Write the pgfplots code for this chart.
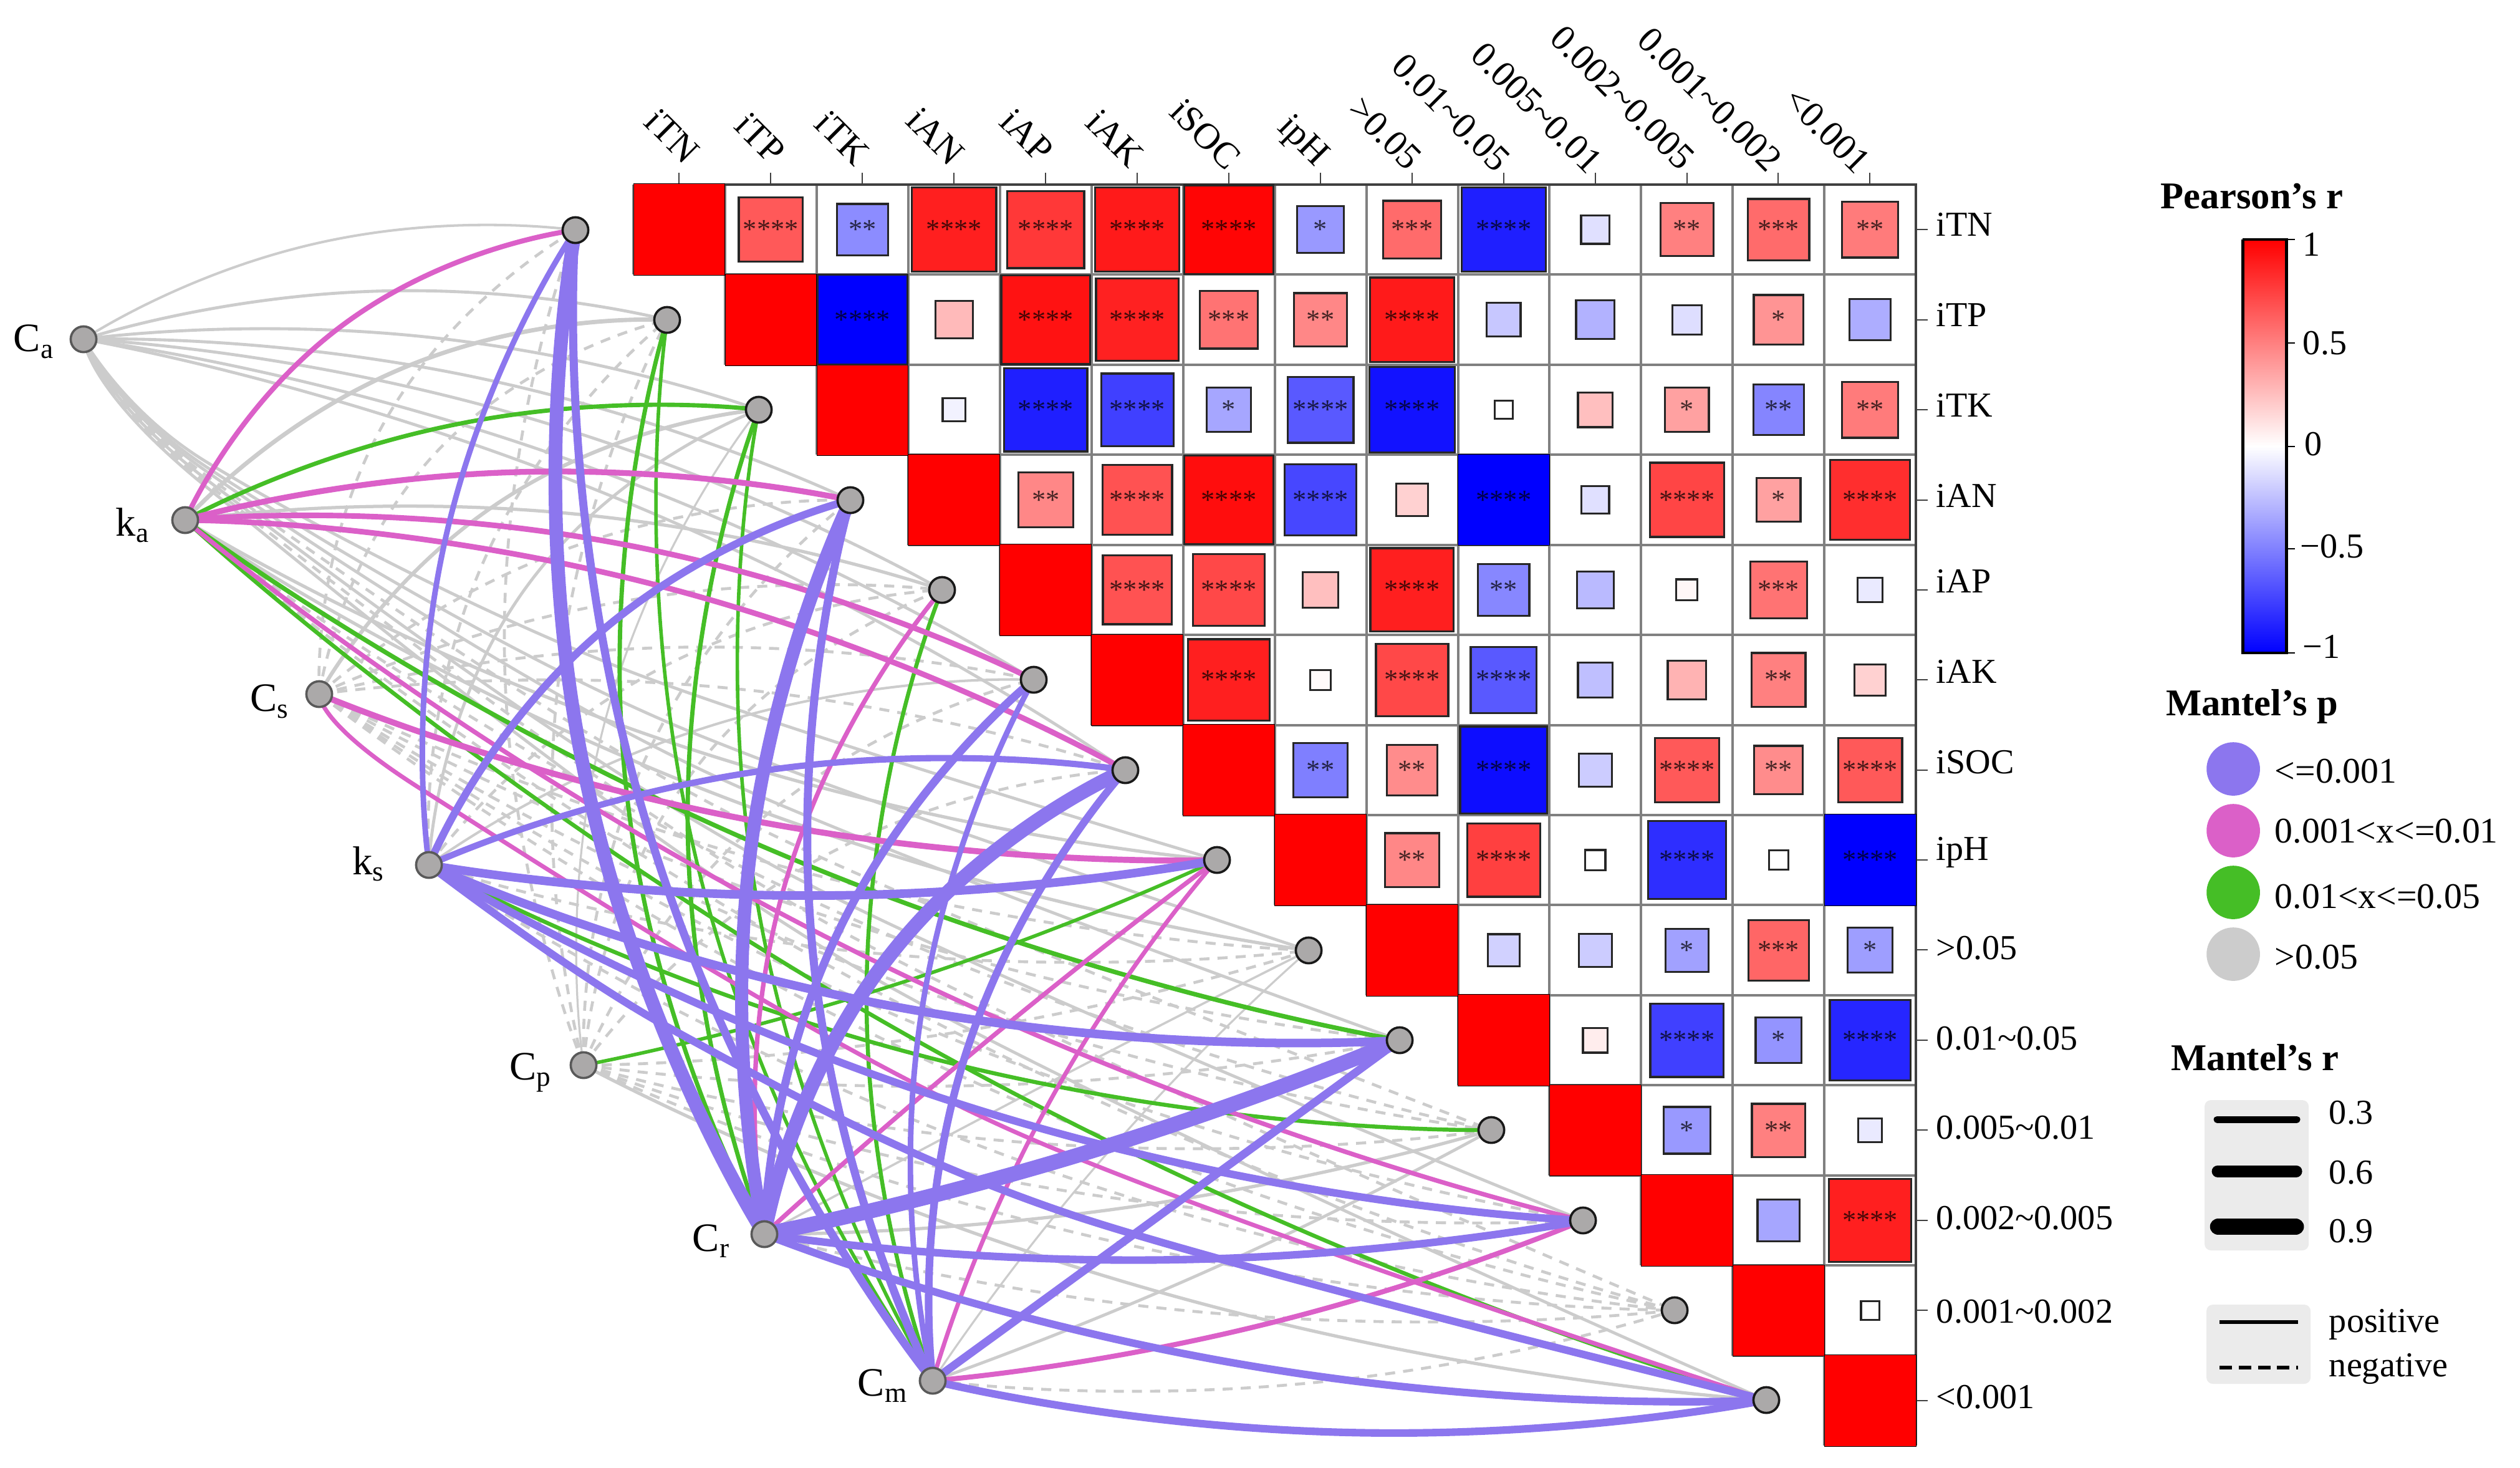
\documentclass[border=0pt]{standalone}
\usepackage{fontspec}
\setmainfont{Liberation Serif}
\usepackage{pgfplots}
\usepackage{pgfplotstable}
\pgfplotsset{compat=1.18}
\definecolor{lg}{HTML}{CCCCCC}
\definecolor{pu}{HTML}{8C76EE}
\definecolor{ma}{HTML}{DB60C8}
\definecolor{gn}{HTML}{45BE26}
\definecolor{ng}{HTML}{ABA9A9}
\definecolor{grid}{HTML}{808080}
\definecolor{axl}{HTML}{404040}
\pgfdeclareplotmark{rsq}{%
  \pgfsetcornersarced{\pgfpoint{1.6pt}{1.6pt}}%
  \pgfpathmoveto{\pgfpoint{0pt}{-\pgfplotmarksize}}%
  \pgfpathlineto{\pgfpoint{\pgfplotmarksize}{-\pgfplotmarksize}}%
  \pgfpathlineto{\pgfpoint{\pgfplotmarksize}{\pgfplotmarksize}}%
  \pgfpathlineto{\pgfpoint{-\pgfplotmarksize}{\pgfplotmarksize}}%
  \pgfpathlineto{\pgfpoint{-\pgfplotmarksize}{-\pgfplotmarksize}}%
  \pgfpathclose
  \pgfusepathqfillstroke}
\tikzset{
  gd/.style={draw=lg,line width=1.15pt,dash pattern=on 4pt off 3.2pt,smooth,tension=1},
  gs/.style={draw=lg,line width=#1,smooth,tension=1},
  pl/.style={draw=pu,line width=#1,smooth,tension=1},
  mg/.style={draw=ma,line width=#1,smooth,tension=1},
  gr/.style={draw=gn,line width=#1,smooth,tension=1},
  soft/.style={tension=0.55},
}
\newcommand{\fs}{\fontsize{13.9}{16}\selectfont}
\newcommand{\ft}{\fontsize{14.6}{17}\selectfont}
\newcommand{\fc}{\fontsize{16}{18}\selectfont}
\newcommand{\fb}{\fontsize{15}{18}\selectfont\bfseries}
\pgfplotstableread{
c r v s st
2 1 0.65 0.70 ****
3 1 -0.45 0.56 **
4 1 0.88 0.92 ****
5 1 0.78 0.84 ****
6 1 0.90 0.92 ****
7 1 0.98 0.97 ****
8 1 -0.40 0.51 *
9 1 0.58 0.63 ***
10 1 -0.88 0.92 ****
11 1 -0.12 0.31 {}
12 1 0.50 0.58 **
13 1 0.58 0.67 ***
14 1 0.52 0.61 **
3 2 -1.00 0.98 ****
4 2 0.27 0.41 {}
5 2 0.93 0.97 ****
6 2 0.87 0.90 ****
7 2 0.55 0.63 ***
8 2 0.47 0.58 **
9 2 0.90 0.92 ****
10 2 -0.22 0.37 {}
11 2 -0.30 0.42 {}
12 2 -0.13 0.32 {}
13 2 0.42 0.54 *
14 2 -0.32 0.45 {}
4 3 -0.05 0.25 {}
5 3 -0.88 0.91 ****
6 3 -0.75 0.79 ****
7 3 -0.35 0.48 *
8 3 -0.65 0.72 ****
9 3 -0.93 0.93 ****
10 3 0.00 0.20 {}
11 3 0.25 0.38 {}
12 3 0.37 0.48 *
13 3 -0.48 0.55 **
14 3 0.52 0.61 **
5 4 0.47 0.60 **
6 4 0.68 0.76 ****
7 4 0.95 0.97 ****
8 4 -0.72 0.78 ****
9 4 0.18 0.35 {}
11 4 -0.12 0.30 {}
12 4 0.73 0.81 ****
13 4 0.37 0.48 *
14 4 0.82 0.87 ****
6 5 0.68 0.75 ****
7 5 0.72 0.78 ****
8 5 0.25 0.39 {}
9 5 0.88 0.91 ****
10 5 -0.47 0.56 **
11 5 -0.27 0.40 {}
12 5 0.03 0.23 {}
13 5 0.55 0.62 ***
14 5 -0.08 0.27 {}
7 6 0.88 0.89 ****
8 6 0.02 0.22 {}
9 6 0.72 0.79 ****
10 6 -0.65 0.72 ****
11 6 -0.25 0.38 {}
12 6 0.30 0.42 {}
13 6 0.50 0.59 **
14 6 0.18 0.34 {}
8 7 -0.50 0.59 **
9 7 0.45 0.55 **
10 7 -0.95 0.95 ****
11 7 -0.20 0.36 {}
12 7 0.65 0.70 ****
13 7 0.45 0.53 **
14 7 0.65 0.70 ****
9 8 0.47 0.59 **
10 8 0.75 0.80 ****
11 8 0.00 0.22 {}
12 8 -0.82 0.85 ****
13 8 0.00 0.21 {}
10 9 -0.18 0.35 {}
11 9 -0.20 0.36 {}
12 9 -0.37 0.47 *
13 9 0.60 0.66 ***
14 9 -0.38 0.49 *
11 10 0.07 0.27 {}
12 10 -0.75 0.80 ****
13 10 -0.42 0.50 *
14 10 -0.85 0.88 ****
12 11 -0.40 0.51 *
13 11 0.50 0.58 **
14 11 -0.08 0.26 {}
13 12 -0.35 0.46 {}
14 12 0.88 0.90 ****
14 13 0.00 0.20 {}
}\cells
\pgfplotstableread{
c r v
1 1 1
2 2 1
3 3 1
4 4 1
5 5 1
6 6 1
7 7 1
8 8 1
9 9 1
10 10 1
11 11 1
12 12 1
13 13 1
14 14 1
10 4 -1
14 8 -1
}\full
\pgfplotstableread{
c r st
10 4 ****
14 8 ****
}\fullstars
\begin{document}
\begin{tikzpicture}[x=1pt,y=1pt]
\useasboundingbox (0,0) rectangle (1000,582.14);
\begin{axis}[at={(0pt,0pt)},anchor=south west,width=1000pt,height=582.14pt,scale only axis,
  xmin=0,xmax=4042,ymin=0,ymax=2353,y dir=reverse,hide axis,clip=false,
  unbounded coords=jump,
  colormap={rw}{rgb255=(0,0,255) rgb255=(255,255,255) rgb255=(255,0,0)},
  point meta min=-1,point meta max=1]

% full cells
\addplot[scatter,only marks,mark=square*,mark size=18.15pt,scatter src=explicit,
  scatter/use mapped color={draw=none,fill=mapped color},mark options={line width=0pt}]
  table[x expr={1016+146.93*(\thisrow{c}-0.5)},y expr={296+144.43*(\thisrow{r}-0.5)},meta=v]{\full};

% grid
\addplot[draw=grid,line width=0.8pt] table{
x y
1016 440
3073 440
nan nan
1163 585
3073 585
nan nan
1310 729
3073 729
nan nan
1457 874
3073 874
nan nan
1604 1018
3073 1018
nan nan
1751 1163
3073 1163
nan nan
1898 1307
3073 1307
nan nan
2045 1451
3073 1451
nan nan
2192 1596
3073 1596
nan nan
2339 1740
3073 1740
nan nan
2485 1885
3073 1885
nan nan
2632 2029
3073 2029
nan nan
2779 2174
3073 2174
nan nan
2926 2318
3073 2318
nan nan
1016 296
1016 440
nan nan
1163 296
1163 585
nan nan
1310 296
1310 729
nan nan
1457 296
1457 874
nan nan
1604 296
1604 1018
nan nan
1751 296
1751 1163
nan nan
1898 296
1898 1307
nan nan
2045 296
2045 1451
nan nan
2192 296
2192 1596
nan nan
2339 296
2339 1740
nan nan
2485 296
2485 1885
nan nan
2632 296
2632 2029
nan nan
2779 296
2779 2174
nan nan
2926 296
2926 2318
};
\addplot[draw=axl,line width=0.9pt] coordinates {(1016,296)(3073,296)(3073,2318)};
% ticks
\addplot[draw=axl,line width=0.6pt] table{
x y
1089 277
1089 296
nan nan
1236 277
1236 296
nan nan
1383 277
1383 296
nan nan
1530 277
1530 296
nan nan
1677 277
1677 296
nan nan
1824 277
1824 296
nan nan
1971 277
1971 296
nan nan
2118 277
2118 296
nan nan
2265 277
2265 296
nan nan
2412 277
2412 296
nan nan
2559 277
2559 296
nan nan
2706 277
2706 296
nan nan
2852 277
2852 296
nan nan
2999 277
2999 296
nan nan
3073 368
3092 368
nan nan
3073 513
3092 513
nan nan
3073 657
3092 657
nan nan
3073 802
3092 802
nan nan
3073 946
3092 946
nan nan
3073 1090
3092 1090
nan nan
3073 1235
3092 1235
nan nan
3073 1379
3092 1379
nan nan
3073 1523
3092 1523
nan nan
3073 1668
3092 1668
nan nan
3073 1812
3092 1812
nan nan
3073 1957
3092 1957
nan nan
3073 2101
3092 2101
nan nan
3073 2246
3092 2246
};

% boxes
\addplot[scatter,only marks,mark=rsq,scatter src=explicit,
  scatter/use mapped color={draw=black!85,fill=mapped color},mark options={line width=0.8pt},
  visualization depends on={18.18*\thisrow{s} \as \ms},
  scatter/@pre marker code/.append style={/tikz/mark size=\ms pt}]
  table[x expr={1016+146.93*(\thisrow{c}-0.5)},y expr={296+144.43*(\thisrow{r}-0.5)},meta=v]{\cells};
% stars
\addplot[only marks,mark=none,point meta=explicit symbolic,nodes near coords,
  nodes near coords style={anchor=center,inner sep=0pt,font=\fontsize{11}{12}\selectfont,text=black,text opacity=0.72}]
  table[x expr={1016+146.93*(\thisrow{c}-0.5)},y expr={296+144.43*(\thisrow{r}-0.5)},meta=st]{\cells};
\addplot[only marks,mark=none,point meta=explicit symbolic,nodes near coords,
  nodes near coords style={anchor=center,inner sep=0pt,font=\fontsize{11}{12}\selectfont,text=black,text opacity=0.72}]
  table[x expr={1016+146.93*(\thisrow{c}-0.5)},y expr={296+144.43*(\thisrow{r}-0.5)},meta=st]{\fullstars};

% ---- links: gray first
% Ca
\addplot[gs=1pt] coordinates {(134,544)(513,389)(923,369)};
\addplot[gs=1.2pt] coordinates {(134,544)(600,467)(1070,513)};
\addplot[gs=1.2pt] coordinates {(134,544)(681,540)(1217,657)};
\addplot[gs=1.2pt] coordinates {(134,544)(763,605)(1364,802)};
\addplot[gs=1.2pt] coordinates {(134,544)(844,669)(1511,946)};
\addplot[gs=1.2pt] coordinates {(134,544)(923,741)(1658,1090)};
\addplot[gs=1.2pt] coordinates {(134,544)(1004,805)(1805,1235)};
\addplot[gs=1.2pt,soft] coordinates {(134,544)(330,740)(993,1070)(1952,1379)};
\addplot[gs=1.2pt,soft] coordinates {(134,544)(330,748)(1057,1152)(2099,1524)};
\addplot[gs=1.2pt,soft] coordinates {(134,544)(330,755)(1122,1233)(2245,1668)};
\addplot[gd,soft] coordinates {(134,544)(330,762)(1187,1313)(2392,1812)};
\addplot[gs=1.2pt,soft] coordinates {(134,544)(330,768)(1251,1394)(2539,1957)};
\addplot[gd,soft] coordinates {(134,544)(330,774)(1317,1475)(2686,2101)};
\addplot[gs=1.2pt,soft] coordinates {(134,544)(330,780)(1381,1556)(2833,2245)};
% ka gray
\addplot[gs=1.7pt] coordinates {(297,834)(649,589)(1070,513)};
\addplot[gs=1.3pt] coordinates {(297,834)(910,823)(1511,946)};
\addplot[gs=1.3pt] coordinates {(297,834)(1095,1197)(1952,1379)};
\addplot[gs=1.3pt] coordinates {(297,834)(1160,1278)(2099,1524)};
\addplot[gd] coordinates {(297,834)(1290,1438)(2392,1812)};
\addplot[gd] coordinates {(297,834)(1421,1598)(2686,2101)};
% Cs gray
\addplot[gd] coordinates {(512,1113)(613,683)(923,369)};
\addplot[gd] coordinates {(512,1113)(698,727)(1070,513)};
\addplot[gs=1.5pt] coordinates {(512,1113)(809,800)(1217,657)};
\addplot[gd] coordinates {(512,1113)(910,880)(1364,802)};
\addplot[gd] coordinates {(512,1113)(1000,964)(1511,946)};
\addplot[gd] coordinates {(512,1113)(1084,1038)(1658,1090)};
\addplot[gd] coordinates {(512,1113)(1165,1103)(1805,1235)};
\addplot[gd] coordinates {(512,1113)(1284,1397)(2099,1524)};
\addplot[gd] coordinates {(512,1113)(1350,1477)(2245,1668)};
\addplot[gd] coordinates {(512,1113)(1414,1565)(2392,1812)};
\addplot[gd] coordinates {(512,1113)(1479,1646)(2539,1957)};
\addplot[gd] coordinates {(512,1113)(1545,1727)(2686,2101)};
% ks gray
\addplot[gd] coordinates {(688,1387)(774,904)(1070,513)};
\addplot[gs=1.2pt] coordinates {(688,1387)(843,943)(1217,657)};
\addplot[gd] coordinates {(688,1387)(1051,1076)(1511,946)};
\addplot[gs=1pt] coordinates {(688,1387)(1149,1161)(1658,1090)};
\addplot[gd] coordinates {(688,1387)(1387,1527)(2099,1524)};
\addplot[gd] coordinates {(688,1387)(1644,1864)(2686,2101)};
% Cp gray
\addplot[gd] coordinates {(936,1708)(809,1039)(923,369)};
\addplot[gd] coordinates {(936,1708)(895,1098)(1070,513)};
\addplot[gs=0.8pt] coordinates {(936,1708)(971,1154)(1217,657)};
\addplot[gd] coordinates {(936,1708)(1041,1204)(1364,802)};
\addplot[gd] coordinates {(936,1708)(1109,1241)(1511,946)};
\addplot[gd] coordinates {(936,1708)(1223,1312)(1658,1090)};
\addplot[gd] coordinates {(936,1708)(1318,1375)(1805,1235)};
\addplot[gd] coordinates {(936,1708)(1523,1657)(2099,1524)};
\addplot[gd] coordinates {(936,1708)(1592,1740)(2245,1668)};
\addplot[gd] coordinates {(936,1708)(1659,1833)(2392,1812)};
\addplot[gd] coordinates {(936,1708)(1725,1912)(2539,1957)};
\addplot[gd] coordinates {(936,1708)(1791,1992)(2686,2101)};
\addplot[gs=1.3pt] coordinates {(936,1708)(1857,2071)(2833,2245)};
% Cr, Cm gray
\addplot[gs=0.9pt] coordinates {(1226,1979)(1660,1748)(2099,1524)};
\addplot[gs=1.3pt] coordinates {(1226,1979)(1816,1935)(2392,1812)};
\addplot[gd] coordinates {(1226,1979)(1951,2106)(2686,2101)};
\addplot[gs=0.8pt] coordinates {(1496,2214)(1776,1849)(2099,1524)};
\addplot[gs=1.2pt] coordinates {(1496,2214)(1952,2031)(2392,1812)};
\addplot[gd] coordinates {(1496,2214)(2097,2218)(2686,2101)};

% ---- green
\addplot[gr=1.7pt] coordinates {(297,834)(744,678)(1217,657)};
\addplot[gr=1.8pt] coordinates {(297,834)(1225,1358)(2245,1668)};
\addplot[gr=1.6pt] coordinates {(297,834)(1487,1678)(2833,2245)};
\addplot[gr=1.6pt] coordinates {(688,1387)(1514,1702)(2392,1812)};
\addplot[gr=1.4pt] coordinates {(936,1708)(1454,1573)(1952,1379)};
\addplot[gr=1.7pt] coordinates {(1226,1979)(1004,1261)(1070,513)};
\addplot[gr=1.7pt] coordinates {(1226,1979)(1103,1319)(1217,657)};
\addplot[gr=1.4pt] coordinates {(1496,2214)(1123,1404)(1070,513)};
\addplot[gr=1.4pt] coordinates {(1496,2214)(1217,1461)(1217,657)};
\addplot[gr=1.6pt] coordinates {(1496,2214)(1390,1579)(1511,946)};

% ---- magenta
\addplot[mg=2pt] coordinates {(297,834)(550,521)(923,369)};
\addplot[mg=2.3pt] coordinates {(297,834)(828,757)(1364,802)};
\addplot[mg=2.2pt] coordinates {(297,834)(995,872)(1658,1090)};
\addplot[mg=2.2pt] coordinates {(297,834)(1075,944)(1805,1235)};
\addplot[mg=1.8pt] coordinates {(297,834)(1356,1518)(2539,1957)};
\addplot[mg=2.4pt] coordinates {(512,1113)(1219,1318)(1952,1379)};
\addplot[mg=1.7pt,soft] coordinates {(512,1113)(675,1265)(1610,1807)(2833,2245)};
\addplot[mg=1.8pt] coordinates {(1226,1979)(1255,1432)(1511,946)};
\addplot[mg=1.8pt] coordinates {(1226,1979)(1582,1670)(1952,1379)};
\addplot[mg=1.7pt] coordinates {(1496,2214)(1680,1773)(1952,1379)};
\addplot[mg=2pt] coordinates {(1496,2214)(2027,2124)(2539,1957)};

% ---- purple
\addplot[pl=2.2pt] coordinates {(688,1387)(716,857)(923,369)};
\addplot[pl=3pt] coordinates {(688,1387)(959,1017)(1364,802)};
\addplot[pl=2.5pt] coordinates {(688,1387)(1237,1234)(1805,1235)};
\addplot[pl=3.4pt] coordinates {(688,1387)(1320,1436)(1952,1379)};
\addplot[pl=3.4pt] coordinates {(688,1387)(1451,1617)(2245,1668)};
\addplot[pl=3pt] coordinates {(688,1387)(1580,1783)(2539,1957)};
\addplot[pl=3pt,soft] coordinates {(688,1387)(1073,1648)(1710,1945)(2833,2245)};
\addplot[pl=5.4pt] coordinates {(1226,1979)(930,1201)(923,369)};
\addplot[pl=5.2pt] coordinates {(1226,1979)(1202,1380)(1364,802)};
\addplot[pl=3.2pt] coordinates {(1226,1979)(1347,1489)(1658,1090)};
\addplot[pl=5.6pt] coordinates {(1226,1979)(1425,1535)(1805,1235)};
\addplot[pl=6pt] coordinates {(1226,1979)(1743,1848)(2245,1668)};
\addplot[pl=3pt] coordinates {(1226,1979)(1884,2020)(2539,1957)};
\addplot[pl=3pt] coordinates {(1226,1979)(2017,2192)(2833,2245)};
\addplot[pl=3.2pt] coordinates {(1496,2214)(1044,1344)(923,369)};
\addplot[pl=3.2pt] coordinates {(1496,2214)(1303,1520)(1364,802)};
\addplot[pl=2.2pt] coordinates {(1496,2214)(1476,1637)(1658,1090)};
\addplot[pl=3pt] coordinates {(1496,2214)(1548,1693)(1805,1235)};
\addplot[pl=3.2pt] coordinates {(1496,2214)(1871,1941)(2245,1668)};
\addplot[pl=3pt] coordinates {(1496,2214)(2163,2297)(2833,2245)};

% nodes
\addplot[only marks,mark=*,mark size=5.1pt,mark options={fill=ng,draw=black!90,line width=0.9pt}] coordinates {
(923,369)(1070,513)(1217,657)(1364,802)(1511,946)(1658,1090)(1805,1235)(1952,1379)(2099,1524)(2245,1668)(2392,1812)(2539,1957)(2686,2101)(2833,2245)};
\addplot[only marks,mark=*,mark size=5.1pt,mark options={fill=ng,draw=black!65,line width=0.9pt}] coordinates {
(134,544)(297,834)(512,1113)(688,1387)(936,1708)(1226,1979)(1496,2214)};

% source labels
\node[anchor=east,inner sep=0pt,font=\fc] at (axis cs:88,548) {C\textsubscript{a}};
\node[anchor=east,inner sep=0pt,font=\fc] at (axis cs:241,842) {k\textsubscript{a}};
\node[anchor=east,inner sep=0pt,font=\fc] at (axis cs:465,1125) {C\textsubscript{s}};
\node[anchor=east,inner sep=0pt,font=\fc] at (axis cs:618,1385) {k\textsubscript{s}};
\node[anchor=east,inner sep=0pt,font=\fc] at (axis cs:886,1720) {C\textsubscript{p}};
\node[anchor=east,inner sep=0pt,font=\fc] at (axis cs:1172,1990) {C\textsubscript{r}};
\node[anchor=east,inner sep=0pt,font=\fc] at (axis cs:1457,2222) {C\textsubscript{m}};

% right labels
\node[anchor=west,inner sep=0pt,font=\fs] at (axis cs:3105,360) {iTN};
\node[anchor=west,inner sep=0pt,font=\fs] at (axis cs:3105,505) {iTP};
\node[anchor=west,inner sep=0pt,font=\fs] at (axis cs:3105,650) {iTK};
\node[anchor=west,inner sep=0pt,font=\fs] at (axis cs:3105,795) {iAN};
\node[anchor=west,inner sep=0pt,font=\fs] at (axis cs:3105,932) {iAP};
\node[anchor=west,inner sep=0pt,font=\fs] at (axis cs:3105,1077) {iAK};
\node[anchor=west,inner sep=0pt,font=\fs] at (axis cs:3105,1222) {iSOC};
\node[anchor=west,inner sep=0pt,font=\fs] at (axis cs:3105,1367) {ipH};
\node[anchor=west,inner sep=0pt,font=\fs] at (axis cs:3105,1520) {>0.05};
\node[anchor=west,inner sep=0pt,font=\fs] at (axis cs:3105,1665) {0.01\textasciitilde0.05};
\node[anchor=west,inner sep=0pt,font=\fs] at (axis cs:3105,1808) {0.005\textasciitilde0.01};
\node[anchor=west,inner sep=0pt,font=\fs] at (axis cs:3105,1953) {0.002\textasciitilde0.005};
\node[anchor=west,inner sep=0pt,font=\fs] at (axis cs:3105,2103) {0.001\textasciitilde0.002};
\node[anchor=west,inner sep=0pt,font=\fs] at (axis cs:3105,2240) {<0.001};

% top labels
\node[anchor=east,rotate=-45,inner sep=0pt,font=\ft] at (axis cs:1112,252) {iTN};
\node[anchor=east,rotate=-45,inner sep=0pt,font=\ft] at (axis cs:1250,252) {iTP};
\node[anchor=east,rotate=-45,inner sep=0pt,font=\ft] at (axis cs:1385,255) {iTK};
\node[anchor=east,rotate=-45,inner sep=0pt,font=\ft] at (axis cs:1537,255) {iAN};
\node[anchor=east,rotate=-45,inner sep=0pt,font=\ft] at (axis cs:1680,250) {iAP};
\node[anchor=east,rotate=-45,inner sep=0pt,font=\ft] at (axis cs:1825,258) {iAK};
\node[anchor=east,rotate=-45,inner sep=0pt,font=\ft] at (axis cs:1980,262) {iSOC};
\node[anchor=east,rotate=-45,inner sep=0pt,font=\ft] at (axis cs:2120,260) {ipH};
\node[anchor=east,rotate=-45,inner sep=0pt,font=\ft] at (axis cs:2270,262) {>0.05};
\node[anchor=east,rotate=-45,inner sep=0pt,font=\ft] at (axis cs:2412,265) {0.01\textasciitilde0.05};
\node[anchor=east,rotate=-45,inner sep=0pt,font=\ft] at (axis cs:2560,268) {0.005\textasciitilde0.01};
\node[anchor=east,rotate=-45,inner sep=0pt,font=\ft] at (axis cs:2708,262) {0.002\textasciitilde0.005};
\node[anchor=east,rotate=-45,inner sep=0pt,font=\ft] at (axis cs:2848,265) {0.001\textasciitilde0.002};
\node[anchor=east,rotate=-45,inner sep=0pt,font=\ft] at (axis cs:2990,268) {<0.001};

% colourbar
\node[inner sep=0pt,font=\fb] at (axis cs:3612,315) {Pearson’s r};
\addplot[draw=none,top color=red,bottom color=blue,middle color=white] coordinates {(3597,384)(3667,384)(3667,1047)(3597,1047)} -- cycle;
\addplot[draw=black,line width=1.2pt] coordinates {(3597,384)(3667,384)(3667,1047)(3597,1047)(3597,384)};
\addplot[draw=black,line width=0.6pt] table{
x y
3667 384
3681 384
nan nan
3667 550
3681 550
nan nan
3667 716
3681 716
nan nan
3667 880
3681 880
nan nan
3667 1047
3681 1047
};
\node[anchor=west,inner sep=0pt,font=\fs] at (axis cs:3693,392) {1};
\node[anchor=west,inner sep=0pt,font=\fs] at (axis cs:3693,550) {0.5};
\node[anchor=west,inner sep=0pt,font=\fs] at (axis cs:3696,712) {0};
\node[anchor=west,inner sep=0pt,font=\fs] at (axis cs:3689,876) {−0.5};
\node[anchor=west,inner sep=0pt,font=\fs] at (axis cs:3693,1037) {−1};

% Mantel's p
\node[inner sep=0pt,font=\fb] at (axis cs:3612,1133) {Mantel’s p};
\addplot[only marks,mark=*,mark size=10.4pt,color=pu] coordinates {(3582,1233)};
\addplot[only marks,mark=*,mark size=10.4pt,color=ma] coordinates {(3582,1332)};
\addplot[only marks,mark=*,mark size=10.4pt,color=gn] coordinates {(3582,1431)};
\addplot[only marks,mark=*,mark size=10.4pt,color=lg] coordinates {(3582,1530)};
\node[anchor=west,inner sep=0pt,font=\fontsize{14.3}{16}\selectfont] at (axis cs:3648,1237) {<=0.001};
\node[anchor=west,inner sep=0pt,font=\fontsize{14.3}{16}\selectfont] at (axis cs:3648,1333) {0.001<x<=0.01};
\node[anchor=west,inner sep=0pt,font=\fontsize{14.3}{16}\selectfont] at (axis cs:3648,1438) {0.01<x<=0.05};
\node[anchor=west,inner sep=0pt,font=\fontsize{14.3}{16}\selectfont] at (axis cs:3648,1535) {>0.05};

% Mantel's r
\node[inner sep=0pt,font=\fb] at (axis cs:3617,1696) {Mantel’s r};
\addplot[fill=black!8,draw=none,rounded corners=2.5pt] coordinates {(3536,1764)(3703,1764)(3703,2005)(3536,2005)} -- cycle;
\addplot[fill=black!8,draw=none,rounded corners=2.5pt] coordinates {(3539,2092)(3706,2092)(3706,2219)(3539,2219)} -- cycle;
\addplot[draw=black,line width=2.7pt,line cap=round] coordinates {(3556,1795)(3684,1795)};
\addplot[draw=black,line width=4.7pt,line cap=round] coordinates {(3557,1878)(3683,1878)};
\addplot[draw=black,line width=6.6pt,line cap=round] coordinates {(3558,1967)(3682,1967)};
\addplot[draw=black,line width=1.5pt] coordinates {(3560,2120)(3686,2120)};
\addplot[draw=black,line width=1.5pt,dash pattern=on 5pt off 2.6pt] coordinates {(3560,2193)(3686,2193)};
\node[anchor=west,inner sep=0pt,font=\fs] at (axis cs:3735,1784) {0.3};
\node[anchor=west,inner sep=0pt,font=\fs] at (axis cs:3735,1880) {0.6};
\node[anchor=west,inner sep=0pt,font=\fs] at (axis cs:3735,1974) {0.9};
\node[anchor=west,inner sep=0pt,font=\fs] at (axis cs:3735,2124) {positive};
\node[anchor=west,inner sep=0pt,font=\fs] at (axis cs:3735,2195) {negative};
\end{axis}
\end{tikzpicture}
\end{document}
